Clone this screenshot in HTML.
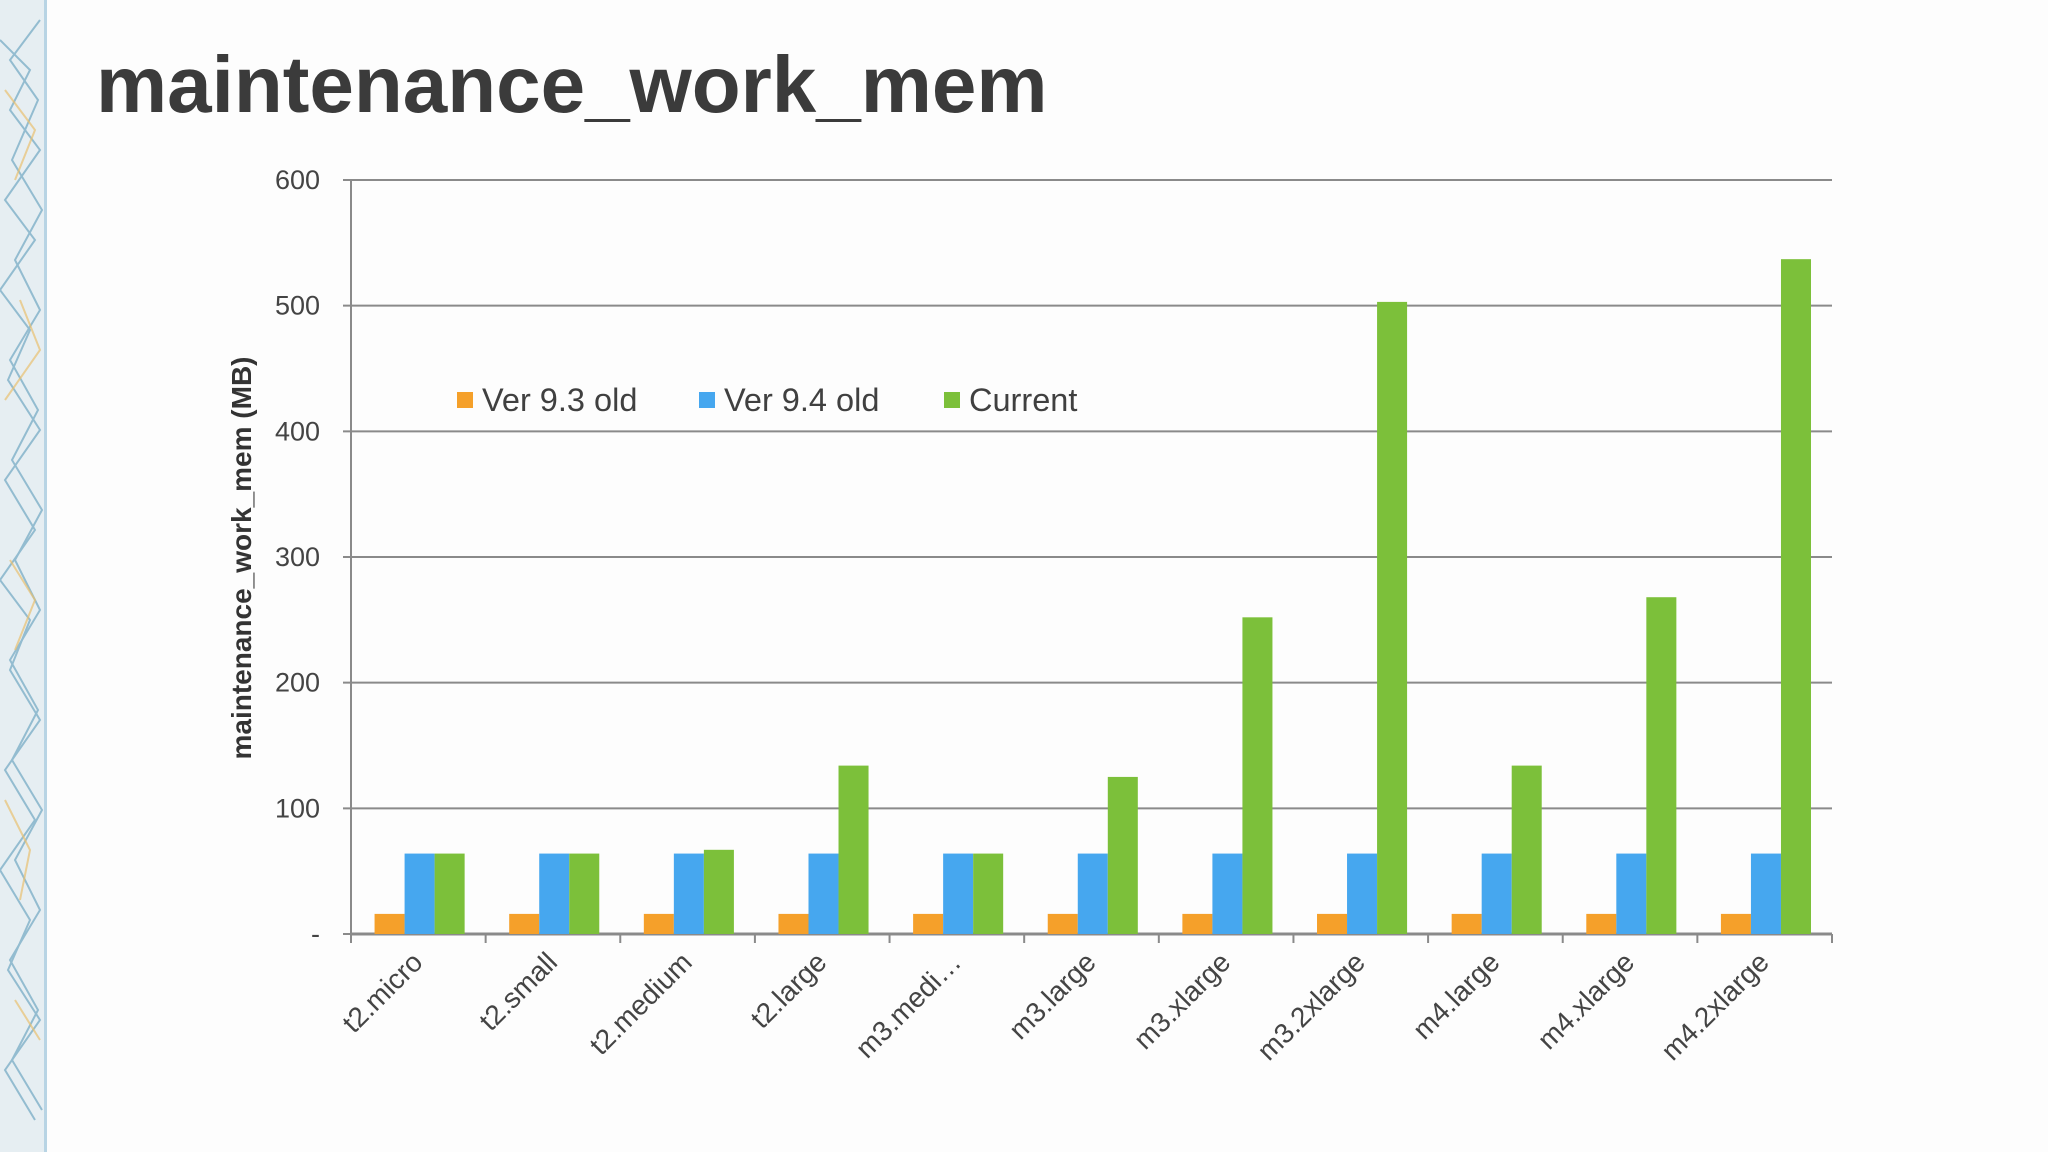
<!DOCTYPE html>
<html><head><meta charset="utf-8">
<style>
html,body{margin:0;padding:0;background:#fdfdfd;}
body{width:2048px;height:1152px;overflow:hidden;position:relative;font-family:"Liberation Sans",sans-serif;}
#title{position:absolute;left:96px;top:39px;font-size:80px;font-weight:bold;color:#3b3b3b;margin:0;letter-spacing:0px;}
</style></head><body>
<svg style="position:absolute;left:0;top:0" width="50" height="1152">
<rect x="0" y="0" width="46" height="1152" fill="#e6eef2"/>
<g stroke="#7fb0c8" stroke-width="2" fill="none" opacity="0.8">
<path d="M0 40 L30 70 L10 110 L40 150 L5 200 L35 240 L0 290 L30 330 L8 380 L40 430 L5 480 L35 530 L0 580 L30 620 L10 670 L40 720 L5 770 L35 820 L0 870 L30 920 L8 970 L40 1020 L5 1070 L35 1120"/>
<path d="M40 20 L10 60 L38 100 L12 160 L42 210 L15 260 L40 310 L10 360 L38 410 L12 460 L42 510 L15 560 L40 610 L10 660 L38 710 L12 760 L42 810 L15 860 L40 910 L10 960 L38 1010 L12 1060 L42 1110"/>
</g>
<g stroke="#e8c070" stroke-width="2" fill="none" opacity="0.7">
<path d="M5 90 L35 130 L15 180 M20 300 L40 350 L5 400 M10 560 L35 600 L15 650 M5 800 L30 850 L20 900 M15 1000 L40 1040"/>
</g>
<rect x="44" y="0" width="3" height="1152" fill="#b8d4e4"/>
</svg>
<h1 id="title">maintenance_work_mem</h1>
<svg id="chart" style="position:absolute;left:0;top:0" width="2048" height="1152"></svg>
<script>
const categories=["t2.micro","t2.small","t2.medium","t2.large","m3.medi…","m3.large","m3.xlarge","m3.2xlarge","m4.large","m4.xlarge","m4.2xlarge"];
const ver93=[16,16,16,16,16,16,16,16,16,16,16];
const ver94=[64,64,64,64,64,64,64,64,64,64,64];
const current=[64,64,67,134,64,125,252,503,134,268,537];
const yTicks=[0,100,200,300,400,500,600];
const yTickLabels=["-","100","200","300","400","500","600"];
const seriesNames=["Ver 9.3 old","Ver 9.4 old","Current"];
const colors=["#f5a02a","#46a7ef","#7cc03a"];

const svg=document.getElementById('chart');
const NS="http://www.w3.org/2000/svg";
const X0=351,X1=1832,Y0=934,Y1=180,YMAX=600;
const catW=(X1-X0)/categories.length;
const y=v=>Y0-(v/YMAX)*(Y0-Y1);
const xCat=i=>X0+i*catW;
function mk(t,a){const e=document.createElementNS(NS,t);for(const k in a)e.setAttribute(k,a[k]);svg.appendChild(e);return e;}

yTicks.forEach((t,i)=>{
  const g=mk('line',{x1:X0-8,x2:X1,y1:y(t),y2:y(t),stroke:'#8a8a8a','stroke-width':2});
  
  
  const l=mk('text',{x:320,y:y(t)+9,'text-anchor':'end','font-size':27,fill:'#444'});
  l.textContent=yTickLabels[i];
  
  
});
const ax=mk('line',{x1:X0,x2:X0,y1:Y1,y2:Y0,stroke:'#8a8a8a','stroke-width':2});


const xa=mk('line',{x1:X0,x2:X1,y1:Y0,y2:Y0,stroke:'#8a8a8a','stroke-width':3});


for(let i=0;i<=categories.length;i++){
  const tk=mk('line',{x1:xCat(i),x2:xCat(i),y1:Y0,y2:Y0+9,stroke:'#8a8a8a','stroke-width':2});
  
  
}
const series=[ver93,ver94,current];
const bw=catW*0.223, off=catW*0.175;
categories.forEach((c,i)=>{
  series.forEach((s,j)=>{
    const r=mk('rect',{x:xCat(i)+off+j*bw,y:y(s[i]),width:bw,height:Y0-y(s[i]),fill:colors[j]});
    
    
  });
  const cx=xCat(i)+catW/2+6, cy=Y0+30;
  const t=mk('text',{x:cx,y:cy,'text-anchor':'end','font-size':28,fill:'#444',transform:`rotate(-45 ${cx} ${cy})`});
  t.textContent=c;
  
  
});
const legX=[457,699,944];
seriesNames.forEach((n,j)=>{
  const r=mk('rect',{x:legX[j],y:392,width:16,height:16,fill:colors[j]});
  
  
  const t=mk('text',{x:legX[j]+25,y:411,'font-size':32.5,fill:'#404040'});
  t.textContent=n;
  
  
});
const yt=mk('text',{x:251,y:558,'text-anchor':'middle','font-size':28,'font-weight':'bold',fill:'#333',transform:'rotate(-90 251 558)'});
yt.textContent="maintenance_work_mem (MB)";


</script>
</body></html>
